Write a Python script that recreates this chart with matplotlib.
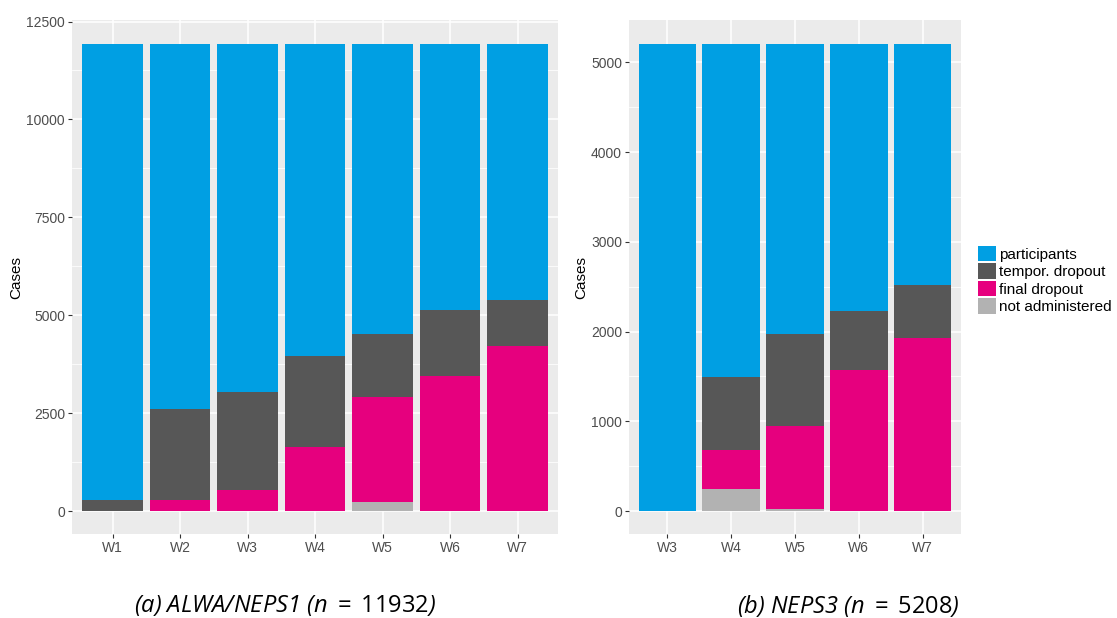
import matplotlib.pyplot as plt
from matplotlib.patches import Patch
from matplotlib.ticker import MultipleLocator

# ALWA/NEPS1
waves_a = ["W1", "W2", "W3", "W4", "W5", "W6", "W7"]
total_a = 11932
not_admin_a = [0, 0, 0, 0, 230, 0, 0]
final_a = [0, 290, 544, 1635, 2683, 3449, 4216]
tempor_a = [290, 2316, 2496, 2325, 1609, 1686, 1175]

# NEPS3
waves_b = ["W3", "W4", "W5", "W6", "W7"]
total_b = 5208
not_admin_b = [0, 245, 22, 0, 0]
final_b = [0, 438, 928, 1571, 1927]
tempor_b = [0, 810, 1022, 657, 591]

labels = ["participants", "tempor. dropout", "final dropout", "not administered"]
colors = ["#009FE3", "#575757", "#E6007E", "#B2B2B2"]

plt.rcParams["font.family"] = ["Liberation Sans", "DejaVu Sans"]
plt.rcParams["mathtext.fontset"] = "custom"
plt.rcParams["mathtext.it"] = "Open Sans:italic"
plt.rcParams["mathtext.rm"] = "Open Sans"


def panel(ax, waves, total, na, fin, tmp, major, ymax):
    x = list(range(1, len(waves) + 1))
    part = [total - a - b - c for a, b, c in zip(na, fin, tmp)]
    bottom = [0] * len(x)
    for vals, col in zip([na, fin, tmp, part], colors[::-1]):
        ax.bar(x, vals, 0.9, bottom=bottom, color=col, linewidth=0, zorder=3)
        bottom = [b + v for b, v in zip(bottom, vals)]
    ax.set_facecolor("#EBEBEB")
    ax.set_xlim(0.4, len(x) + 0.6)
    ax.set_ylim(-0.05 * total, 1.05 * total)
    ax.set_xticks(x)
    ax.set_xticklabels(waves)
    ax.yaxis.set_major_locator(MultipleLocator(major))
    ax.yaxis.set_minor_locator(MultipleLocator(major / 2))
    ax.set_yticks([t for t in range(0, ymax + 1, major)])
    ax.grid(which="major", color="white", linewidth=1.1, zorder=0)
    ax.grid(which="minor", axis="y", color="white", linewidth=0.55, zorder=0)
    ax.tick_params(which="major", length=3, width=0.8, color="#333333",
                   labelcolor="#4D4D4D", labelsize=10, pad=2)
    ax.tick_params(which="minor", length=0)
    for s in ax.spines.values():
        s.set_visible(False)
    ax.set_ylabel("Cases", fontsize=11, labelpad=2)


fig = plt.figure(figsize=(11.17, 6.18), dpi=100)
ax1 = fig.add_axes([72 / 1117, 1 - 534.4 / 618, 486 / 1117, 514 / 618])
ax2 = fig.add_axes([629 / 1117, 1 - 534.4 / 618, 332 / 1117, 514 / 618])

panel(ax1, waves_a, total_a, not_admin_a, final_a, tempor_a, 2500, 12500)
panel(ax2, waves_b, total_b, not_admin_b, final_b, tempor_b, 1000, 5000)

handles = [Patch(facecolor=c, edgecolor="none") for c in colors]
fig.legend(handles, labels, loc="center left", bbox_to_anchor=(978 / 1117, 1 - 280 / 618),
           frameon=False, handlelength=1.2, handleheight=1.2, handletextpad=0.15,
           labelspacing=0.1, borderpad=0, borderaxespad=0, fontsize=11)

fig.text(285 / 1117, 1 - 606 / 618, r"(a) ALWA/NEPS1 ($n$ $=$ $\mathrm{11932}$)", ha="center",
         va="center", fontsize=17, style="italic", family=["Open Sans", "DejaVu Sans"])
fig.text(848 / 1117, 1 - 606 / 618, r"(b) NEPS3 ($n$ $=$ $\mathrm{5208}$)", ha="center",
         va="center", fontsize=17, style="italic", family=["Open Sans", "DejaVu Sans"])

fig.savefig("out.png", dpi=100)
